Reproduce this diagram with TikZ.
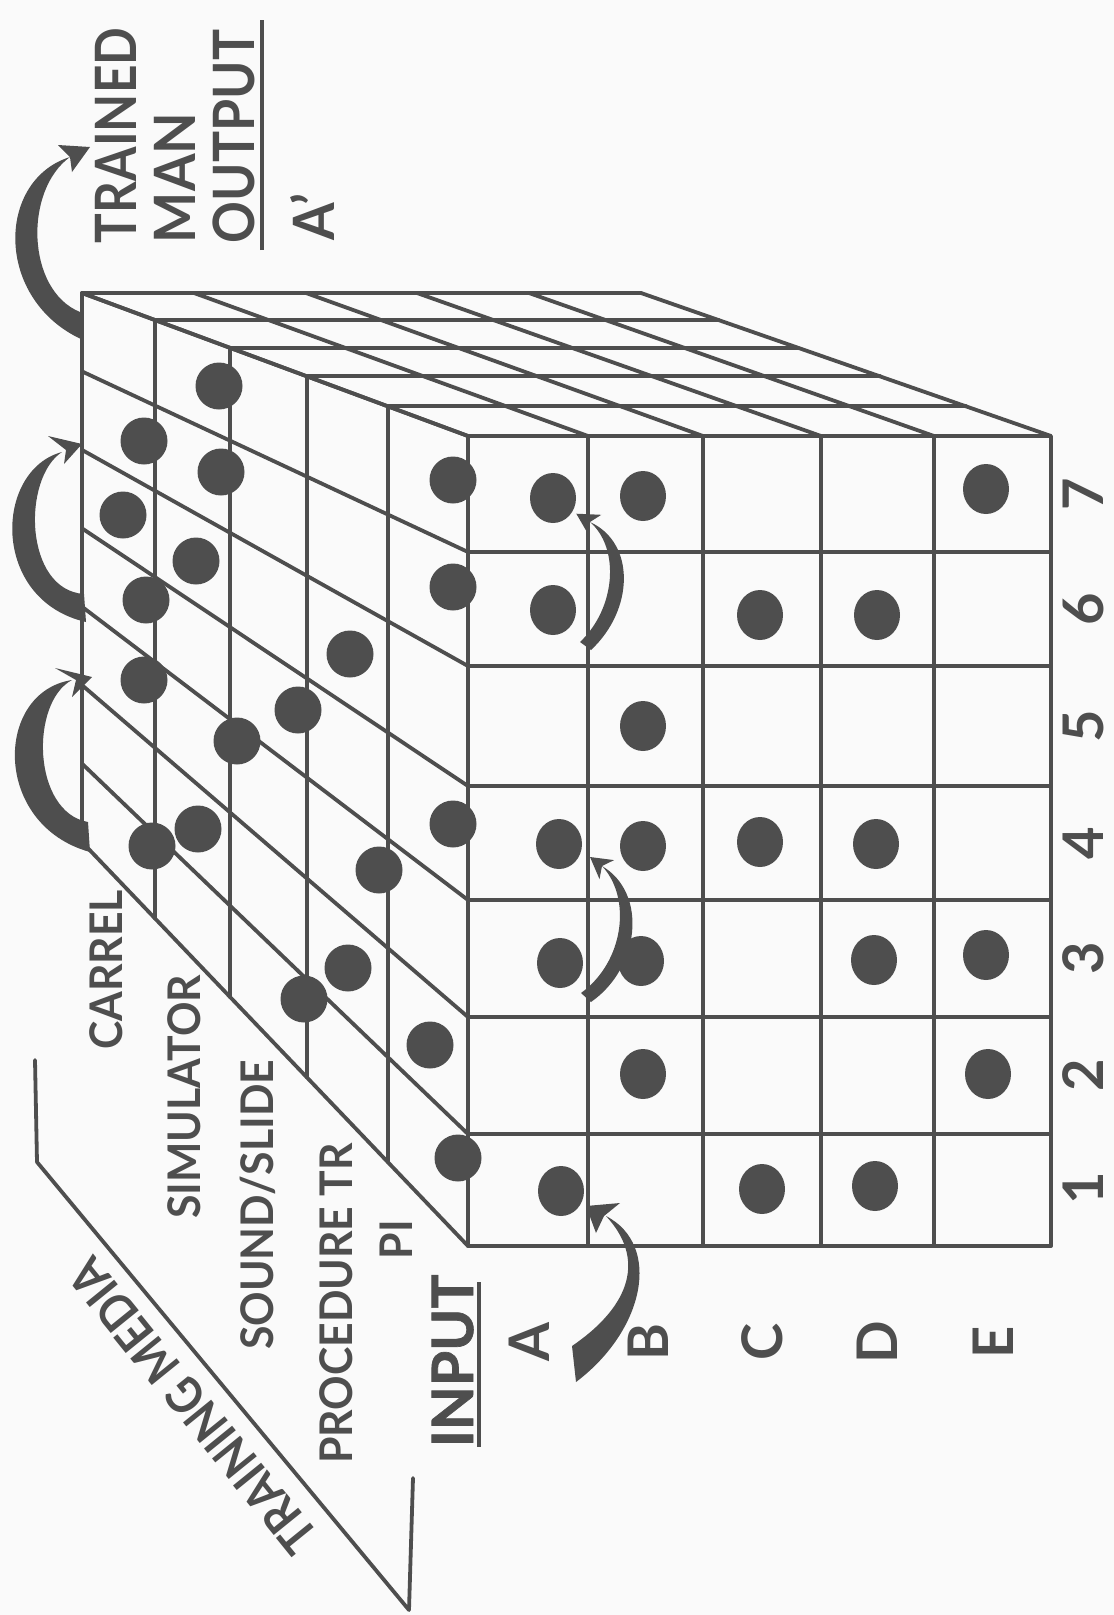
\documentclass[tikz,border=0pt]{standalone}
\usepackage{fontspec}
\setmainfont{Lato}
\newfontfamily\labfont{Lato}[FakeStretch=0.95]
\newfontfamily\midfont{Lato}[FakeStretch=0.91]
\newfontfamily\narfont{Lato}[FakeStretch=0.87]
\newfontfamily\heavyfont{Lato}[FakeBold=1.2]
\begin{document}
\definecolor{ink}{RGB}{78,78,78}
\definecolor{paper}{RGB}{250,250,250}
\begin{tikzpicture}[x=1pt,y=-1pt,
  edge/.style={draw=ink,line width=3.8pt,line cap=round,line join=round},
  lab/.style={text=ink,inner sep=0pt,outer sep=0pt,rotate=90},
  big/.style={font=\fontsize{57}{60}\selectfont\labfont\bfseries},
  bignar/.style={font=\fontsize{57}{60}\selectfont\narfont\bfseries},
  bigmid/.style={font=\fontsize{57}{60}\selectfont\midfont\bfseries},
  midl/.style={font=\fontsize{45}{48}\selectfont\labfont\bfseries},
  idx/.style={font=\fontsize{56}{60}\selectfont\bfseries,text depth=0pt},
]
\fill[paper] (0,0) rectangle (1114,1615);
\useasboundingbox (0,0) rectangle (1114,1615);

% ---- left (top) face: column lines receding
\foreach \yf/\yb in {1246/842,1134/763.6,1017/685.1,900/606.7,786/528.3,666/449.9,552/371.4,436/293}
  \draw[edge] (468,\yf) -- (82,\yb);
% layer lines on left face
\foreach \xl in {82,155,230,307,388}{
  \pgfmathsetmacro\t{(468-\xl)/386}
  \draw[edge] (\xl,{436-143*\t}) -- (\xl,{1246-404*\t});
}
% ---- right (side) face
\foreach \xf/\xb in {468/82,588/194,703/306,821/417,934/529,1051/641}
  \draw[edge] (\xf,436) -- (\xb,293);
\foreach \xl in {82,155,230,307,388}{
  \pgfmathsetmacro\t{(468-\xl)/386}
  \draw[edge] (\xl,{436-143*\t}) -- ({1051-410*\t},{436-143*\t});
}
% ---- front face
\draw[edge] (468,436) rectangle (1051,1246);
\foreach \x in {588,703,821,934} \draw[edge] (\x,436) -- (\x,1246);
\foreach \y in {552,666,786,900,1017,1134} \draw[edge] (468,\y) -- (1051,\y);

% ---- dots on left face
\foreach \x/\y in {219/386,144/441,221/472,453/480,123/515,196/561,453/587,146/600,
  350/654,144/680,298/710,237/741,198/829,152/846,453/824,379/870,348/968,304/999,
  430/1045,458/1158}
  \fill[ink] (\x,\y) circle[radius=23.5pt];
% ---- dots on front face
\foreach \x/\y in {553/498,643/496,986/489,553/610,760/615,877/615,643/726,
  559/844,643/846,760/842,876/844,560/963,641/961,874/960,986/955,
  643/1074,988/1074,561/1191,762/1189,875/1186}
  \fill[ink] (\x,\y) ellipse[x radius=23pt,y radius=25pt];

% ---- curved arrows on the left (back edge)
\fill[ink] (83,340) .. controls (-6,300) and (-4,180) .. (70,157) .. controls (24,190) and (26,290) .. (80,312) -- cycle;
\fill[ink] (90,147) -- (72,172) -- (70,157) -- (58,145) -- cycle;
\fill[ink] (86,622) .. controls (-10,600) and (-6,470) .. (62,452) .. controls (22,478) and (24,590) .. (84,594) -- cycle;
\fill[ink] (82,444) -- (64,464) -- (66,450) -- (48,436) -- cycle;
\fill[ink] (90,852) .. controls (-8,825) and (-6,692) .. (72,680) .. controls (30,702) and (32,812) .. (88,822) -- cycle;
\fill[ink] (92,677) -- (72,697) -- (76,680) -- (55,668) -- cycle;
% ---- curved arrows on the front face
\fill[ink] (591,650) .. controls (634,610) and (636,543) .. (590,522) .. controls (620,548) and (616,608) .. (580,642) -- cycle;
\fill[ink] (576.3,513.7) -- (601.3,514.8) -- (590,522) -- (588.9,535.4) -- cycle;
\fill[ink] (591,1002) .. controls (640,968) and (648,893) .. (602,866) .. controls (632,898) and (624,962) .. (581,993) -- cycle;
\fill[ink] (590,857) -- (614.1,860.1) -- (602,866) -- (599.5,879.1) -- cycle;
\fill[ink] (576,1382) .. controls (645,1330) and (662,1245) .. (606,1216) .. controls (645,1258) and (632,1305) .. (572,1346) -- cycle;
\fill[ink] (586,1206) -- (620,1203) -- (604,1216) -- (596,1233) -- cycle;

% ---- output labels
\node[lab,bignar,anchor=base west] (trained) at (136,243) {TRAINED};
\node[lab,big,anchor=base west] (man) at (195,243) {MAN};
\node[lab,bigmid,anchor=base west] (output) at (254,243) {OUTPUT};
\node[lab,big,anchor=base west] (aprime) at (334,240) {A’};
\draw[ink,line width=3.5pt] (262,250) -- (262,20);

% ---- media labels
\node[lab,midl,anchor=base east] (carrel) at (122,890) {CARREL};
\node[lab,midl,anchor=base east] (sim) at (200,975) {SIMULATOR};
\node[lab,midl,anchor=base east] (sound) at (273,1060) {SOUND/SLIDE};
\node[lab,midl,anchor=base east] (proc) at (352,1143) {PROCEDURE TR};
\node[lab,midl,anchor=base east] (pi) at (412,1220) {PI};

% ---- input
\node[lab,font=\fontsize{57}{60}\selectfont\heavyfont\bfseries,anchor=base west] (input) at (473,1447) {INPUT};
\draw[ink,line width=3.5pt] (479,1282) -- (479,1447);

% ---- row letters and column numbers
\foreach \n/\x in {A/549,B/668,C/782,D/897,E/1013}
  \node[lab,idx,anchor=base] (row\n) at (\x,1342) {\n};
\foreach \n/\y in {1/1188,2/1075,3/958,4/843,5/726,6/609,7/494}
  \node[lab,idx,anchor=base] (col\n) at (1103,\y) {\n};

% ---- training media bracket
\node[text=ink,inner sep=0pt,rotate=129,anchor=base,font=\fontsize{50}{52}\selectfont\narfont\bfseries] (media) at (207,1395) {TRAINING MEDIA};
\draw[edge] (35,1060) -- (37,1162) -- (409,1610) -- (413,1478);
\end{tikzpicture}
\end{document}
